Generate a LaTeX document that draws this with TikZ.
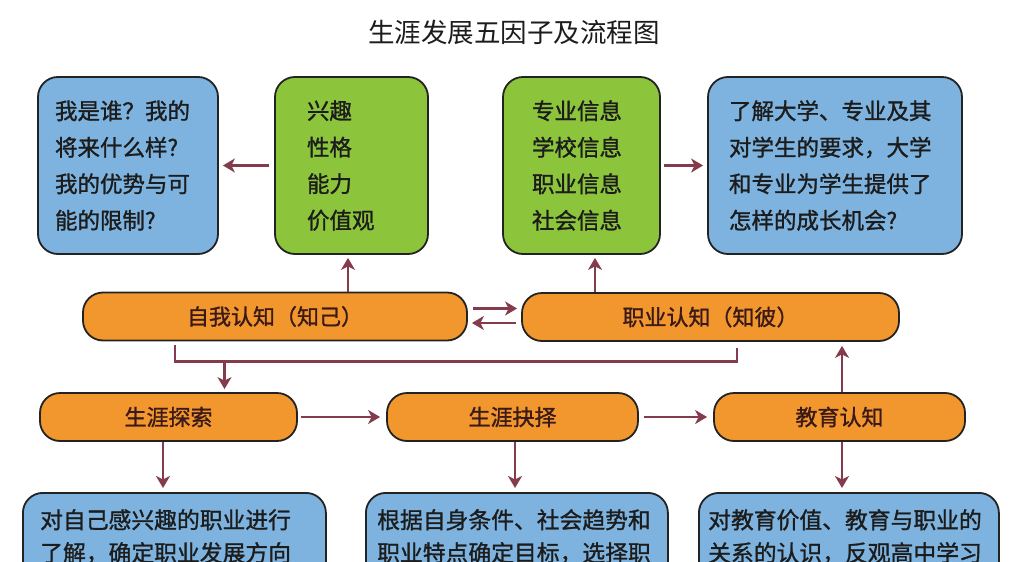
\documentclass[tikz,border=0pt]{standalone}
\usepackage{fontspec}
\setmainfont{Noto Sans CJK SC}
\newfontfamily\boxfont{Noto Sans CJK SC}[FakeBold=1.2]
\usetikzlibrary{arrows.meta,calc}
\definecolor{bluefill}{HTML}{7DB3DE}
\definecolor{greenfill}{HTML}{8CC43C}
\definecolor{orangefill}{HTML}{F2962E}
\definecolor{boxline}{HTML}{232323}
\definecolor{arrowc}{HTML}{843C4C}
\definecolor{txt}{HTML}{1C1C1C}
\definecolor{otxt}{HTML}{3A1A18}
\begin{document}
\begin{tikzpicture}[x=1pt,y=-1pt,
  box/.style={draw=boxline, line width=1.8pt, rounded corners=20pt, inner sep=0pt, text=txt},
  bluebox/.style={box, fill=bluefill},
  greenbox/.style={box, fill=greenfill},
  orangebox/.style={box, fill=orangefill, text=otxt, minimum height=48pt, font=\boxfont\fontsize{22}{26}\selectfont},
  toptext/.style={align=left, minimum height=177pt, font=\boxfont\fontsize{22.5}{36.5}\selectfont},
  bottext/.style={anchor=north west, inner sep=0pt, align=left, text=txt, font=\boxfont\fontsize{22.8}{33}\selectfont},
  arr/.style={draw=arrowc, line width=2.8pt, -{Stealth[length=12pt,width=14pt,inset=3.5pt]}},
  bracketline/.style={draw=arrowc, line width=2.8pt}
]
\useasboundingbox (0,0) rectangle (1023,562);
\fill[white] (0,0) rectangle (1023,562);

\node[text=txt, font=\fontsize{26.5}{30}\selectfont] (title) at (514,32) {生涯发展五因子及流程图};

% top row
\node[bluebox, toptext, minimum width=180pt, text width=146pt] (b1) at (128,165.5)
  {我是谁？我的\\将来什么样?\\我的优势与可\\能的限制?};
\node[greenbox, toptext, minimum width=153pt, text width=89pt] (g1) at (351.5,165.5)
  {兴趣\\性格\\能力\\价值观};
\node[greenbox, toptext, minimum width=157pt, text width=99pt] (g2) at (581.5,165.5)
  {专业信息\\学校信息\\职业信息\\社会信息};
\node[bluebox, toptext, minimum width=254pt, text width=212pt] (b2) at (835,165.5)
  {了解大学、专业及其\\对学生的要求，大学\\和专业为学生提供了\\怎样的成长机会?};

% middle row
\node[orangebox, minimum width=384pt] (a1) at (275,316.5) {自我认知（知己）};
\node[orangebox, minimum width=377pt] (a2) at (710.5,317) {职业认知（知彼）};

% lower row
\node[orangebox, minimum width=257pt] (e1) at (168.5,417) {生涯探索};
\node[orangebox, minimum width=251pt] (e2) at (512.5,417) {生涯抉择};
\node[orangebox, minimum width=251pt] (e3) at (839.5,417) {教育认知};

% bottom boxes (cut by the picture edge)
\begin{scope}
\clip (0,0) rectangle (1023,562);
\node[bluebox, anchor=north west, minimum width=303pt, minimum height=150pt] (d1) at (22,492) {};
\node[bluebox, anchor=north west, minimum width=302pt, minimum height=150pt] (d2) at (365,492) {};
\node[bluebox, anchor=north west, minimum width=300pt, minimum height=150pt] (d3) at (698,492) {};
\node[bottext] (d1t) at ([xshift=18pt,yshift=-17pt]d1.north west) {对自己感兴趣的职业进行\\了解，确定职业发展方向};
\node[bottext] (d2t) at ([xshift=12pt,yshift=-17pt]d2.north west) {根据自身条件、社会趋势和\\职业特点确定目标，选择职};
\node[bottext] (d3t) at ([xshift=10pt,yshift=-17pt]d3.north west) {对教育价值、教育与职业的\\关系的认识，反观高中学习};
\end{scope}

% connectors, top row
\draw[arr, shorten <=5pt, shorten >=4pt] (g1.west) -- (b1.east);
\draw[arr, shorten <=3pt, shorten >=4pt] (g2.east) -- (b2.west);
\draw[arr, shorten >=3pt] ([xshift=-3.5pt]g1.south |- a1.north) -- ([xshift=-3.5pt]g1.south);
\draw[arr, shorten >=3pt] ([xshift=13.5pt]g2.south |- a2.north) -- ([xshift=13.5pt]g2.south);

% double arrows between the two cognitions
\draw[arr, shorten <=5pt, shorten >=4pt] ([yshift=8pt]a1.east) -- ([yshift=8pt]a1.east -| a2.west);
\draw[arr, shorten <=5pt, shorten >=4pt] ([yshift=-6pt]a2.west) -- ([yshift=-6pt]a2.west -| a1.east);

% bracket joining the two cognitions
\coordinate (brL) at ([xshift=-100pt,yshift=-4pt]a1.south);
\coordinate (brR) at ([xshift=26.5pt,yshift=-6pt]a2.south);
\coordinate (brJ) at ([xshift=56pt]e1.north |- 0,360);
\draw[bracketline] (brL) -- ++(0,16) -| (brR);
\draw[arr, shorten >=3pt] (brJ) -- ([xshift=56pt]e1.north);

% lower row
\draw[arr, shorten <=3pt, shorten >=6pt] (e1.east) -- (e2.west);
\draw[arr, shorten <=5pt, shorten >=6pt] (e2.east) -- (e3.west);
\draw[arr, shorten >=4pt] ([xshift=2.5pt]e3.north) -- ([xshift=2.5pt]e3.north |- a2.south);
\draw[arr, shorten >=4pt] ([xshift=-5.5pt]e1.south) -- ([xshift=-5.5pt]e1.south |- d1.north);
\draw[arr, shorten >=4pt] ([xshift=2.5pt]e2.south) -- ([xshift=2.5pt]e2.south |- d2.north);
\draw[arr, shorten >=4pt] ([xshift=2.5pt]e3.south) -- ([xshift=2.5pt]e3.south |- d3.north);
\end{tikzpicture}
\end{document}
